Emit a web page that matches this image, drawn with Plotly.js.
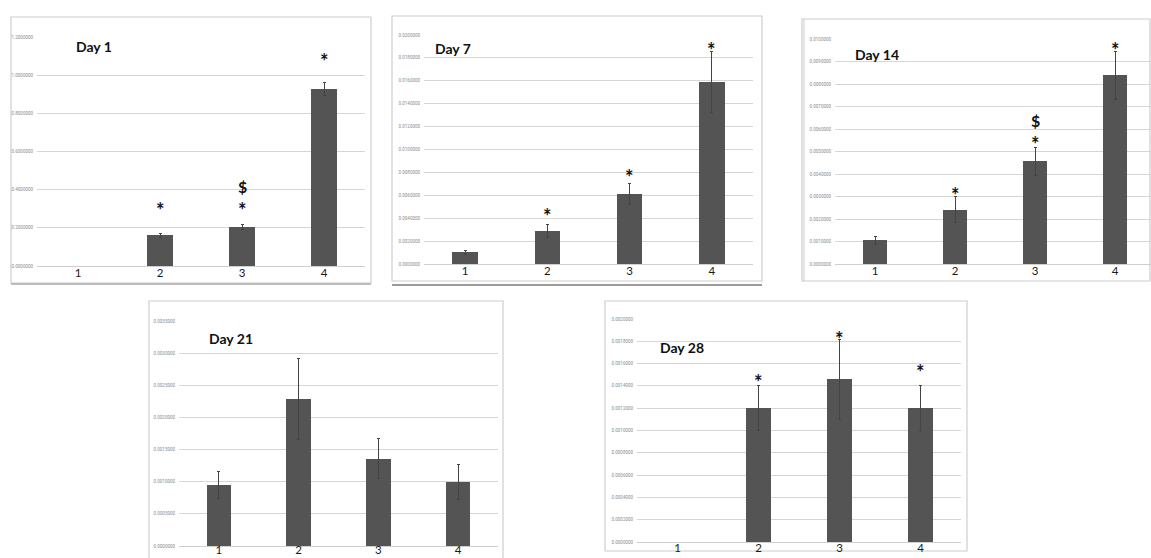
<!DOCTYPE html>
<html>
<head>
<meta charset="utf-8">
<script src="https://cdn.plot.ly/plotly-3.0.1.min.js"></script>
<style>html,body{margin:0;padding:0;background:#fff;}#chart{width:1151px;height:558px;}</style>
</head>
<body>
<div id="chart"></div>
<script>
// ---- data ----
const categories = ['1', '2', '3', '4'];

const day1Values = [null, 0.161, 0.206, 0.927];
const day1Errors = [0, 0.010, 0.013, 0.034];
const day1Stars = [null, 0.32, 0.32, 1.10];
const day1Dollars = [null, null, 0.39, null];

const day7Values = [0.00102, 0.00289, 0.00610, 0.01590];
const day7Errors = [0.00020, 0.00058, 0.00090, 0.00270];
const day7Stars = [null, 0.00466, 0.00800, 0.01916];
const day7Dollars = [null, null, null, null];

const day14Values = [0.00105, 0.00242, 0.00457, 0.00838];
const day14Errors = [0.00018, 0.00059, 0.00062, 0.00107];
const day14Stars = [null, 0.00330, 0.00555, 0.00975];
const day14Dollars = [null, null, 0.00611, null];

const day21Values = [0.000954, 0.00229, 0.00136, 0.000995];
const day21Errors = [0.00021, 0.00063, 0.00031, 0.00027];
const day21Stars = [null, null, null, null];
const day21Dollars = [null, null, null, null];

const day28Values = [null, 0.00120, 0.00146, 0.00120];
const day28Errors = [0, 0.00020, 0.00036, 0.00020];
const day28Stars = [null, 0.00148, 0.001865, 0.00157];
const day28Dollars = [null, null, null, null];

const panelTitles = ['Day 1', 'Day 7', 'Day 14', 'Day 21', 'Day 28'];
const yMaxima = [1.2, 0.02, 0.01, 0.0035, 0.002];
const yTickSteps = [0.2, 0.002, 0.001, 0.0005, 0.0002];

// ---- layout geometry (pixels) ----
const W = 1151, H = 558;
const panels = [
  {values: day1Values, errors: day1Errors, stars: day1Stars, dollars: day1Dollars,
   box: [11, 17, 371, 283], plot: [37, 37, 365, 266], xr: [0.5, 4.5], title: [74, 46], standoff: -2},
  {values: day7Values, errors: day7Errors, stars: day7Stars, dollars: day7Dollars,
   box: [392, 16, 762, 281], plot: [424, 35, 753, 264], xr: [0.5, 4.5], title: [433, 48], standoff: -2},
  {values: day14Values, errors: day14Errors, stars: day14Stars, dollars: day14Dollars,
   box: [802, 19, 1150, 281], plot: [835, 39, 1151, 264], xr: [0.5, 4.45], title: [853, 55], standoff: -2},
  {values: day21Values, errors: day21Errors, stars: day21Stars, dollars: day21Dollars,
   box: [149, 301, 503, 562], plot: [179, 321, 498, 546], xr: [0.5, 4.5], title: [207, 338], standoff: -5},
  {values: day28Values, errors: day28Errors, stars: day28Stars, dollars: day28Dollars,
   box: [605, 301, 967, 551], plot: [637, 319, 961, 542], xr: [0.5, 4.5], title: [658, 347], standoff: -3}
];

const px = v => v / W;
const py = v => 1 - v / H;
const STAR_SIZE = 20, DOLLAR_SIZE = 16;
const markFont = s => ({family: 'Lato, "Open Sans", sans-serif', size: s, color: '#111'});

const traces = [];
const layout = {
  width: W, height: H,
  margin: {l: 0, r: 0, t: 0, b: 0},
  paper_bgcolor: '#ffffff',
  plot_bgcolor: 'rgba(0,0,0,0)',
  showlegend: false,
  bargap: 0,
  shapes: [],
  annotations: []
};

panels.forEach((p, i) => {
  const n = i === 0 ? '' : String(i + 1);
  const xa = 'x' + n, ya = 'y' + n;
  const xVals = categories.map(c => Number(c));
  traces.push({
    type: 'bar',
    x: xVals,
    y: p.values,
    width: 0.31,
    xaxis: xa, yaxis: ya,
    marker: {color: '#545454', line: {width: 0}},
    error_y: {type: 'data', array: p.errors, visible: true, color: '#444444', thickness: 1, width: 1.5},
    hoverinfo: 'skip'
  });

  layout['xaxis' + n] = {
    domain: [px(p.plot[0]), px(p.plot[2])],
    anchor: ya,
    range: p.xr,
    tickvals: xVals,
    ticktext: categories,
    showgrid: false,
    zeroline: false,
    showline: false,
    ticks: '',
    fixedrange: true,
    tickfont: {family: 'Lato, "Open Sans", sans-serif', size: 11.5, color: '#1a1a1a'},
    ticklabelstandoff: p.standoff
  };
  layout['yaxis' + n] = {
    domain: [py(p.plot[3]), py(p.plot[1])],
    anchor: xa,
    range: [0, yMaxima[i]],
    dtick: yTickSteps[i],
    tick0: 0,
    tickformat: '.7f',
    showgrid: true,
    gridcolor: '#d6d6d6',
    gridwidth: 1,
    zeroline: true,
    zerolinecolor: '#cfcfcf',
    zerolinewidth: 1,
    showline: false,
    ticks: '',
    fixedrange: true,
    ticklabelstandoff: 3,
    tickfont: {family: 'Roboto, sans-serif', size: 4.5, color: '#8a8a8a'}
  };

  // panel frame
  layout.shapes.push({
    type: 'rect', xref: 'paper', yref: 'paper',
    x0: px(p.box[0]), x1: px(p.box[2]), y0: py(p.box[3]), y1: py(p.box[1]),
    line: {color: '#cdcdcd', width: 1.2}, fillcolor: 'rgba(0,0,0,0)', layer: 'below'
  });

  // panel title
  layout.annotations.push({
    xref: 'paper', yref: 'paper',
    x: px(p.title[0]), y: py(p.title[1]),
    xanchor: 'left', yanchor: 'middle',
    text: panelTitles[i], showarrow: false,
    font: {family: 'Lato, "Open Sans", sans-serif', size: 14, color: '#111', weight: 'bold'}
  });

  // significance marks: the asterisk glyph sits high in its line box,
  // so anchor the box top and lift it so the glyph is centred on the value
  const starLift = Math.round(0.42 * STAR_SIZE);
  p.stars.forEach((s, k) => {
    if (s === null) return;
    layout.annotations.push({
      xref: xa, yref: ya, x: xVals[k], y: s,
      xanchor: 'center', yanchor: 'top', yshift: starLift, showarrow: false,
      text: '<b>*</b>', font: markFont(STAR_SIZE), borderpad: 0
    });
    if (p.dollars[k] !== null) {
      // dollar sign stacked right above the asterisk
      layout.annotations.push({
        xref: xa, yref: ya, x: xVals[k], y: s,
        xanchor: 'center', yanchor: 'bottom', yshift: starLift, showarrow: false,
        text: '<b>$</b>', font: markFont(DOLLAR_SIZE), borderpad: 0
      });
    }
  });
});

// extra separator lines seen in the reference
layout.shapes.push({type: 'line', xref: 'paper', yref: 'paper',
  x0: px(392), x1: px(762), y0: py(285), y1: py(285), line: {color: '#9a9a9a', width: 2}});
layout.shapes.push({type: 'line', xref: 'paper', yref: 'paper',
  x0: px(11), x1: px(371), y0: py(284), y1: py(284), line: {color: '#a8a8a8', width: 1.5}});
layout.shapes.push({type: 'line', xref: 'paper', yref: 'paper',
  x0: px(804), x1: px(804), y0: py(281), y1: py(19), line: {color: '#cdcdcd', width: 1}});

Plotly.newPlot('chart', traces, layout, {displayModeBar: false, staticPlot: true});
</script>
</body>
</html>
